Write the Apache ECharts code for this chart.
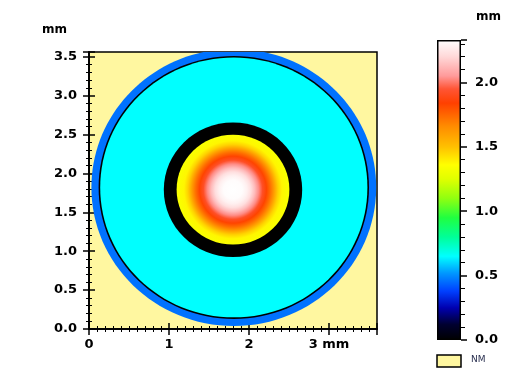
<!DOCTYPE html>
<html><head><meta charset="utf-8">
<script src="https://cdn.jsdelivr.net/npm/echarts@6/dist/echarts.min.js"></script>
<style>html,body{margin:0;padding:0;background:#fff}#c{width:510px;height:380px}</style>
</head><body><div id="c"></div>
<script>
// ---- data ----
// height scale (colour bar) stops: value (mm) -> colour
const scaleValues = [0.00, 0.12, 0.25, 0.38, 0.52, 0.65, 0.80, 0.95, 1.10, 1.25, 1.36, 1.50, 1.66, 1.84, 1.95, 2.05, 2.20, 2.33];
const scaleColors = ['#000000', '#000030', '#0000b0', '#0040ff', '#0098ff', '#00ffff', '#00ff98', '#20ff40', '#90ff10', '#e0ff00', '#ffff00', '#ffc000', '#ff8c00', '#ff4000', '#ff5535', '#ff9a9a', '#ffd8d8', '#ffffff'];
const scaleMax = 2.33;
// flat zones (filled disks, drawn from largest to smallest)
const diskCx = [1.81, 1.81, 1.81, 1.80];
const diskCy = [1.82, 1.82, 1.82, 1.79];
const diskRadius = [1.78, 1.69, 1.67, 0.865];
const diskHeight = [0.46, 0.00, 0.65, 0.00];
// central dome: radial height profile
const domeCenter = [1.80, 1.79];
const domeRadius = [0.00, 0.12, 0.18, 0.23, 0.28, 0.33, 0.38, 0.43, 0.48, 0.53, 0.58, 0.63, 0.705];
const domeHeight = [2.33, 2.32, 2.28, 2.22, 2.13, 2.03, 1.92, 1.83, 1.73, 1.60, 1.46, 1.38, 1.34];
// tick labels
const xTickValues = [0, 1, 2, 3];
const xTickLabels = ['0', '1', '2', '3 mm'];
const yTickValues = [0, 0.5, 1, 1.5, 2, 2.5, 3, 3.5];
const yTickLabels = ['0.0', '0.5', '1.0', '1.5', '2.0', '2.5', '3.0', '3.5'];
const barTickValues = [0, 0.5, 1, 1.5, 2];
const barTickLabels = ['0.0', '0.5', '1.0', '1.5', '2.0'];

function colorAt(v) {
  if (v <= scaleValues[0]) return scaleColors[0];
  for (let i = 1; i < scaleValues.length; i++) {
    if (v <= scaleValues[i]) {
      const t = (v - scaleValues[i - 1]) / (scaleValues[i] - scaleValues[i - 1]);
      return echarts.color.lerp(t, [scaleColors[i - 1], scaleColors[i]]);
    }
  }
  return scaleColors[scaleColors.length - 1];
}
function labelFor(vals, labels) {
  return function (v) {
    for (let i = 0; i < vals.length; i++) if (Math.abs(vals[i] - v) < 1e-6) return labels[i];
    return '';
  };
}

const mapData = diskRadius.map((r, i) => [diskCx[i], diskCy[i], r, diskHeight[i], 0]);
mapData.push([domeCenter[0], domeCenter[1], domeRadius[domeRadius.length - 1], domeHeight[0], 1]);

const FONT = 'DejaVu Sans';
const lblStyle = { fontFamily: FONT, fontSize: 13, fontWeight: 'bold', color: '#000' };
const axLine = { show: true, lineStyle: { color: '#000', width: 1.5 } };

const chart = echarts.init(document.getElementById('c'), null, { renderer: 'canvas' });
chart.setOption({
  animation: false,
  backgroundColor: '#fff',
  grid: [
    { left: 89, right: 133, top: 52, bottom: 51, show: true, backgroundColor: '#fff7a0', borderColor: '#000', borderWidth: 1.5 },
    { left: 437, width: 24, top: 40, bottom: 40, show: false }
  ],
  xAxis: [
    { type: 'value', gridIndex: 0, min: 0, max: 3.6, interval: 1, position: 'bottom',
      axisLine: axLine, splitLine: { show: false },
      axisTick: { show: true, length: 6, inside: false, lineStyle: { color: '#000', width: 1.5 } },
      minorTick: { show: true, splitNumber: 10, length: 3, lineStyle: { color: '#000', width: 1 } },
      axisLabel: Object.assign({ margin: 9, showMaxLabel: false, formatter: labelFor(xTickValues, xTickLabels) }, lblStyle) },
    { type: 'value', gridIndex: 0, min: 0, max: 3.6, interval: 1, position: 'top',
      axisLine: axLine, splitLine: { show: false }, axisLabel: { show: false },
      axisTick: { show: true, length: 6, lineStyle: { color: '#000', width: 1.5 } },
      minorTick: { show: true, splitNumber: 10, length: 3, lineStyle: { color: '#000', width: 1 } } },
    { type: 'category', gridIndex: 1, data: ['h'], show: false }
  ],
  yAxis: [
    { type: 'value', gridIndex: 0, min: 0, max: 3.56, interval: 0.5, position: 'left',
      axisLine: axLine, splitLine: { show: false },
      axisTick: { show: true, length: 6, lineStyle: { color: '#000', width: 1.5 } },
      minorTick: { show: true, splitNumber: 5, length: 3, lineStyle: { color: '#000', width: 1 } },
      axisLabel: Object.assign({ margin: 12, showMaxLabel: false, formatter: labelFor(yTickValues, yTickLabels) }, lblStyle) },
    { type: 'value', gridIndex: 0, min: 0, max: 3.56, interval: 0.5, position: 'right',
      axisLine: axLine, splitLine: { show: false }, axisLabel: { show: false },
      axisTick: { show: true, length: 6, lineStyle: { color: '#000', width: 1.5 } },
      minorTick: { show: true, splitNumber: 5, length: 3, lineStyle: { color: '#000', width: 1 } } },
    { type: 'value', gridIndex: 1, min: 0, max: scaleMax, interval: 0.5, position: 'right',
      axisLine: { show: false }, splitLine: { show: false },
      axisTick: { show: true, length: 6, lineStyle: { color: '#000', width: 1.5 } },
      minorTick: { show: true, splitNumber: 5, length: 4, lineStyle: { color: '#000', width: 1 } },
      axisLabel: Object.assign({ margin: 14, showMaxLabel: false, formatter: labelFor(barTickValues, barTickLabels) }, lblStyle) }
  ],
  series: [
    {
      type: 'custom', xAxisIndex: 0, yAxisIndex: 0, clip: true,
      encode: { x: 0, y: 1 },
      data: mapData,
      renderItem: function (params, api) {
        const c = api.coord([api.value(0), api.value(1)]);
        const s = api.size([api.value(2), api.value(2)]);
        const kind = api.value(4);
        let fill;
        if (kind === 1) {
          const R = domeRadius[domeRadius.length - 1];
          const stops = domeRadius.map((r, i) => ({ offset: r / R, color: colorAt(domeHeight[i]) }));
          fill = new echarts.graphic.RadialGradient(0.5, 0.5, 0.5, stops);
        } else {
          fill = colorAt(api.value(3));
        }
        return {
          type: 'ellipse',
          shape: { cx: c[0], cy: c[1], rx: s[0], ry: s[1] },
          style: { fill: fill }
        };
      }
    },
    {
      type: 'bar', xAxisIndex: 2, yAxisIndex: 2, barWidth: '100%',
      data: [scaleMax],
      itemStyle: {
        borderColor: '#000', borderWidth: 1.5,
        color: new echarts.graphic.LinearGradient(0, 1, 0, 0,
          scaleValues.map((v, i) => ({ offset: v / scaleMax, color: scaleColors[i] })))
      }
    }
  ],
  graphic: [
    { type: 'text', left: 42, top: 24, style: { text: 'mm', font: 'bold 12px "DejaVu Sans"', fill: '#000' } },
    { type: 'text', left: 476, top: 11, style: { text: 'mm', font: 'bold 12px "DejaVu Sans"', fill: '#000' } },
    { type: 'rect', shape: { x: 437, y: 355, width: 24, height: 12 }, style: { fill: '#fff7a0', stroke: '#000', lineWidth: 1.5 } },
    { type: 'text', left: 471, top: 355, style: { text: 'NM', font: '9px "DejaVu Sans"', fill: '#2a3050' } }
  ]
});
</script>
</body></html>
